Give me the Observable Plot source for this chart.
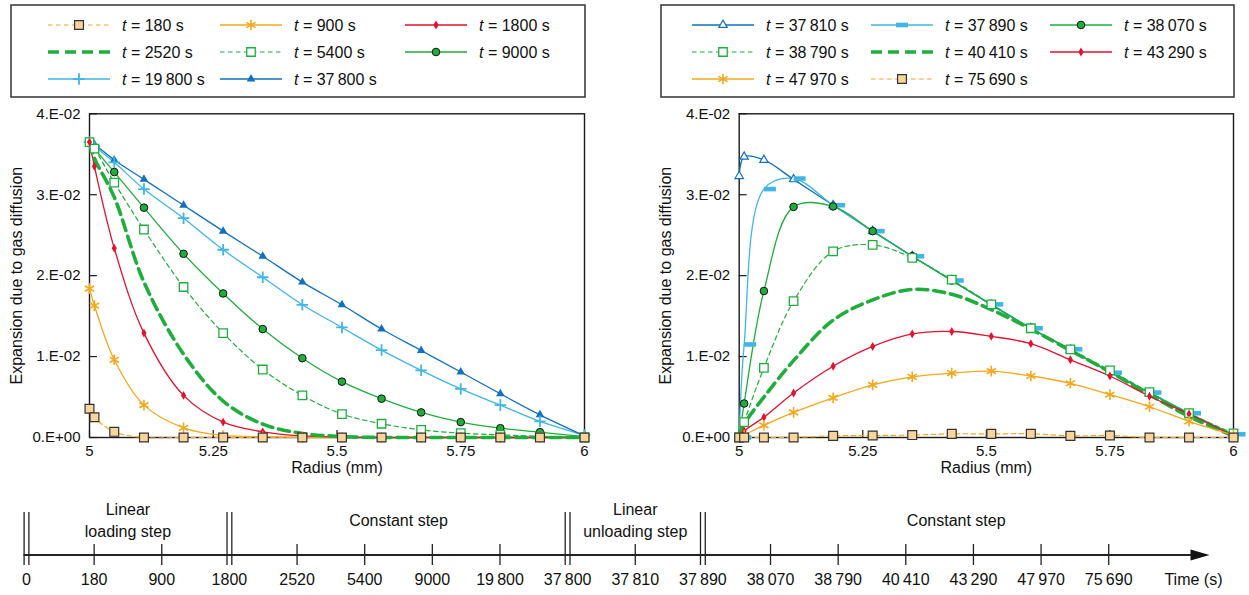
<!DOCTYPE html>
<html><head><meta charset="utf-8">
<script src="https://cdn.jsdelivr.net/npm/d3@7"></script>
<script src="https://cdn.jsdelivr.net/npm/@observablehq/plot@0.6"></script>
<style>
html,body{margin:0;padding:0;background:#fff;}
#root{position:relative;width:1249px;height:595px;overflow:hidden;font-family:"Liberation Sans",Arial,Helvetica,sans-serif;}
#root > div{position:absolute;}
</style></head>
<body><div id="root"></div>
<script>
// ---------------- DATA ----------------
const UNIT = 1e-2; // values below are in units of 1E-02
const radius = [5, 5.01, 5.05, 5.11, 5.19, 5.27, 5.35, 5.43, 5.51, 5.59, 5.67, 5.75, 5.83, 5.91, 6];

// left panel (loading / constant step)
const L180   = [0.355, 0.25, 0.07, 0, 0, 0, 0, 0, 0, 0, 0, 0, 0, 0, 0];
const L900   = [1.84, 1.63, 0.96, 0.40, 0.12, 0.025, 0.01, 0, 0, 0, 0, 0, 0, 0, 0];
const L1800  = [3.65, 3.35, 2.34, 1.29, 0.52, 0.19, 0.07, 0.02, 0.005, 0, 0, 0, 0, 0, 0];
const L2520  = [3.65, 3.45, 2.97, 1.92, 1.03, 0.45, 0.165, 0.05, 0.012, 0, 0, 0, 0, 0, 0];
const L5400  = [3.65, 3.57, 3.15, 2.57, 1.86, 1.29, 0.84, 0.52, 0.29, 0.17, 0.095, 0.053, 0.033, 0.015, 0];
const L9000  = [3.65, 3.57, 3.28, 2.84, 2.27, 1.78, 1.34, 0.98, 0.69, 0.48, 0.31, 0.19, 0.115, 0.066, 0.01];
const L19800 = [3.65, 3.60, 3.40, 3.07, 2.71, 2.32, 1.98, 1.64, 1.36, 1.08, 0.83, 0.60, 0.40, 0.20, 0.03];
const L37800 = [3.65, 3.62, 3.43, 3.19, 2.87, 2.55, 2.24, 1.92, 1.64, 1.34, 1.075, 0.81, 0.54, 0.28, 0.02];

// right panel (unloading / constant step)
const R37810 = [3.23, 3.47, 3.43, 3.19, 2.87, 2.55, 2.24, 1.94, 1.64, 1.35, 1.085, 0.81, 0.55, 0.29, 0.02];
const R37890 = [0, 1.15, 3.07, 3.20, 2.87, 2.55, 2.24, 1.94, 1.645, 1.35, 1.09, 0.80, 0.555, 0.30, 0.04];
const R38070 = [0, 0.42, 1.81, 2.85, 2.855, 2.55, 2.24, 1.94, 1.64, 1.35, 1.085, 0.81, 0.555, 0.30, 0.03];
const R38790 = [0, 0.19, 0.86, 1.685, 2.30, 2.38, 2.22, 1.95, 1.645, 1.35, 1.09, 0.83, 0.56, 0.30, 0.05];
const R40410 = [0.05, 0.17, 0.50, 0.95, 1.45, 1.70, 1.83, 1.77, 1.58, 1.34, 1.075, 0.81, 0.53, 0.26, 0.02];
const R43290 = [0, 0.08, 0.25, 0.55, 0.88, 1.125, 1.28, 1.31, 1.25, 1.16, 0.96, 0.76, 0.51, 0.29, 0.02];
const R47970 = [0, 0.03, 0.15, 0.31, 0.49, 0.65, 0.75, 0.795, 0.82, 0.76, 0.67, 0.53, 0.38, 0.20, 0.03];
const R75690 = [0, 0, 0, 0, 0.02, 0.025, 0.03, 0.045, 0.045, 0.045, 0.02, 0.025, 0, 0, 0];

const yTicks = [0, 0.01, 0.02, 0.03, 0.04];
const yTickLabels = ["0.E+00", "1.E-02", "2.E-02", "3.E-02", "4.E-02"];
const xTicks = [5, 5.25, 5.5, 5.75, 6];
const xTickLabels = ["5", "5.25", "5.5", "5.75", "6"];
const yTitle = "Expansion due to gas diffusion";
const xTitle = "Radius (mm)";

// timeline
const timeTicks  = [0, 180, 900, 1800, 2520, 5400, 9000, 19800, 37800, 37810, 37890, 38070, 38790, 40410, 43290, 47970, 75690];
const timeLabels = ["0", "180", "900", "1800", "2520", "5400", "9000", "19\u2009800", "37\u2009800", "37\u2009810", "37\u2009890", "38\u2009070", "38\u2009790", "40\u2009410", "43\u2009290", "47\u2009970", "75\u2009690"];
const phaseBreaks = [0, 1800, 37800, 37890];
const phaseNames = ["Linear\nloading step", "Constant step", "Linear\nunloading step", "Constant step"];
const timeTitle = "Time (s)";

// ---------------- STYLES ----------------
const FONT = '"Liberation Sans", Arial, Helvetica, sans-serif';
const C = {orange:"#f4a81d", tan:"#f9d49b", red:"#e3122f", green:"#1fae3c", cyan:"#41b6e6", blue:"#1170c0", ink:"#1a1a1a"};
const dashRight = {draw(c){ c.moveTo(0,-2.3); c.lineTo(12,-2.3); c.lineTo(12,2.3); c.lineTo(0,2.3); c.closePath(); }};
const dashCenter = {draw(c){ c.moveTo(-6,-2.3); c.lineTo(6,-2.3); c.lineTo(6,2.3); c.lineTo(-6,2.3); c.closePath(); }};
const arrowHead = {draw(c){ c.moveTo(0,0); c.lineTo(-19,-5.5); c.lineTo(-19,5.5); c.closePath(); }};
const THIN = "4.5,3.5", THICK = "11,6";
const S = {
  tanSq:   {color:C.orange, width:1.2, dash:THIN, symbol:d3.symbolSquare, r:5, fill:C.tan, mstroke:"#333", msw:1.2},
  star:    {color:C.orange, width:1.3, symbol:d3.symbolAsterisk, r:5, fill:"none", mstroke:C.orange, msw:1.6},
  diamond: {color:C.red, width:1.3, symbol:d3.symbolDiamond, r:2.7, fill:C.red, mstroke:"none", msw:0},
  thick:   {color:C.green, width:3.6, dash:THICK},
  openSq:  {color:C.green, width:1.2, dash:THIN, symbol:d3.symbolSquare, r:4.8, fill:"white", mstroke:C.green, msw:1.3},
  circle:  {color:C.green, width:1.3, symbol:d3.symbolCircle, r:3.8, fill:C.green, mstroke:"#111", msw:1},
  plus:    {color:C.cyan, width:1.3, symbol:d3.symbolPlus, r:3.8, fill:"none", mstroke:C.cyan, msw:1.8},
  tri:     {color:C.blue, width:1.3, symbol:d3.symbolTriangle, r:3.2, fill:C.blue, mstroke:"none", msw:0},
  openTri: {color:C.blue, width:1.3, symbol:d3.symbolTriangle2, r:4, fill:"white", mstroke:C.blue, msw:1.2},
  dashM:   {color:C.cyan, width:1.3, symbol:dashRight, legendSymbol:dashCenter, r:3, fill:C.cyan, mstroke:"none", msw:0}
};
const leftSeries = [
  {t:"180", v:L180, ...S.tanSq}, {t:"900", v:L900, ...S.star}, {t:"1800", v:L1800, ...S.diamond},
  {t:"2520", v:L2520, ...S.thick}, {t:"5400", v:L5400, ...S.openSq}, {t:"9000", v:L9000, ...S.circle},
  {t:"19\u2009800", v:L19800, ...S.plus}, {t:"37\u2009800", v:L37800, ...S.tri}
];
const rightSeries = [
  {t:"37\u2009810", v:R37810, ...S.openTri}, {t:"37\u2009890", v:R37890, ...S.dashM}, {t:"38\u2009070", v:R38070, ...S.circle},
  {t:"38\u2009790", v:R38790, ...S.openSq}, {t:"40\u2009410", v:R40410, ...S.thick}, {t:"43\u2009290", v:R43290, ...S.diamond},
  {t:"47\u2009970", v:R47970, ...S.star}, {t:"75\u2009690", v:R75690, ...S.tanSq}
];

const root = document.getElementById("root");
function place(node, left, top){ const d = document.createElement("div"); d.style.left = left+"px"; d.style.top = top+"px"; d.appendChild(node); root.appendChild(d); }

// ---------------- PANELS ----------------
function panel(series, width, marginLeft, marginRight, reverseMarkers){
  const pts = vals => radius.map((r, i) => ({r, v: vals[i] * UNIT}));
  const marks = [
    Plot.frame({stroke:C.ink, strokeWidth:1.4}),
    Plot.ruleY(yTicks, {x1: 5, x2: 5.016, stroke:C.ink, strokeWidth:1.2}),
    Plot.ruleX(xTicks, {y1: 0, y2: 0.00088, stroke:C.ink, strokeWidth:1.2}),
    Plot.axisY(yTicks, {tickSize:0, tickPadding:9, tickFormat: d => yTickLabels[yTicks.indexOf(d)], fontSize:15, label:null}),
    Plot.axisX(xTicks, {tickSize:0, tickPadding:8, tickFormat: d => xTickLabels[xTicks.indexOf(d)], fontSize:15, label:null}),
    Plot.text([yTitle], {frameAnchor:"left", dx:-73, rotate:-90, textAnchor:"middle", lineAnchor:"middle", fontSize:16}),
    Plot.text([xTitle], {frameAnchor:"bottom", dy:30, textAnchor:"middle", lineAnchor:"middle", fontSize:16})
  ];
  for (const s of series) marks.push(Plot.line(pts(s.v), {x:"r", y:"v", curve:"catmull-rom", stroke:s.color, strokeWidth:s.width, strokeDasharray:s.dash}));
  const order = reverseMarkers ? series.slice().reverse() : series;
  for (const s of order) if (s.symbol) marks.push(Plot.dot(pts(s.v), {x:"r", y:"v", symbol:s.symbol, r:s.r, fill:s.fill, stroke:s.mstroke, strokeWidth:s.msw}));
  return Plot.plot({
    width, height:380, marginLeft, marginRight, marginTop:13.3, marginBottom:43,
    x:{domain:[5, 6]}, y:{domain:[0, 0.04]},
    style:{fontFamily:FONT, color:"#111", background:"transparent", overflow:"visible"},
    marks
  });
}
place(panel(leftSeries, 620, 89, 36, true), 0, 100);
place(panel(rightSeries, 599, 88.7, 16, false), 650, 100);

// ---------------- LEGENDS ----------------
const leg = d3.create("svg").attr("width", 1249).attr("height", 100).style("font-family", FONT).style("overflow","visible");
function legend(series, box, cols){
  leg.append("rect").attr("x", box[0]).attr("y", box[1]).attr("width", box[2]).attr("height", box[3])
    .attr("fill", "none").attr("stroke", "#333").attr("stroke-width", 1.5);
  const rows = [25, 52, 79];
  series.forEach((s, i) => {
    const x0 = cols[i % 3], y = rows[Math.floor(i / 3)];
    const g = leg.append("g");
    g.append("line").attr("x1", x0).attr("x2", x0 + 62).attr("y1", y).attr("y2", y)
      .attr("stroke", s.color).attr("stroke-width", s.width).attr("stroke-dasharray", s.dash || null);
    if (s.symbol) {
      const sym = s.legendSymbol || s.symbol;
      g.append("path").attr("transform", `translate(${x0 + 31},${y})`)
        .attr("d", d3.symbol(sym, s.r * s.r * Math.PI)())
        .attr("fill", s.fill).attr("stroke", s.mstroke).attr("stroke-width", s.msw);
    }
    const tx = g.append("text").attr("x", x0 + 74).attr("y", y).attr("dy", "0.35em").attr("font-size", 16).attr("fill", "#111");
    tx.append("tspan").attr("font-style", "italic").text("t");
    tx.append("tspan").text(` = ${s.t} s`);
  });
}
legend(leftSeries, [11, 5, 574, 92], [48, 220, 405]);
legend(rightSeries, [661, 5, 573, 92], [692, 871, 1050]);
place(leg.node(), 0, 0);

// ---------------- TIMELINE ----------------
const idx = t => timeTicks.indexOf(t);
const xEnd = timeTicks.length - 1 + 1.49;
const singles = timeTicks.filter(t => !phaseBreaks.includes(t));
const phases = phaseBreaks.map((b, i) => ({name: phaseNames[i], a: idx(b), b: i + 1 < phaseBreaks.length ? idx(phaseBreaks[i + 1]) : xEnd}));
const timeline = Plot.plot({
  width:1249, height:105, marginLeft:26, marginRight:40, marginTop:54, marginBottom:30,
  x:{domain:[0, xEnd], axis:null}, y:{domain:[-1, 1], axis:null},
  style:{fontFamily:FONT, color:"#111", background:"transparent", overflow:"visible"},
  marks:[
    Plot.ruleY([0], {x1: 0, x2: xEnd - 0.1, insetLeft:-2.5, stroke:"#222", strokeWidth:1.8}),
    Plot.dot([xEnd], {x: d => d, y: 0, symbol: arrowHead, r: 4, fill:"#111", stroke:"none"}),
    Plot.tickX(singles, {x: idx, stroke:"#222", strokeWidth:1.3}),
    Plot.tickX(phaseBreaks, {x: idx, dx:-2.4, insetTop:-32, stroke:"#222", strokeWidth:1.3}),
    Plot.tickX(phaseBreaks, {x: idx, dx:2.4, insetTop:-32, stroke:"#222", strokeWidth:1.3}),
    Plot.text(timeTicks, {x: idx, text: (d, i) => timeLabels[i], frameAnchor:"bottom", dy:14, lineAnchor:"middle", fontSize:16}),
    Plot.text(phases, {x: d => (d.a + d.b) / 2, text:"name", frameAnchor:"top", dy:-25.5, lineAnchor:"middle", lineHeight:1.35, fontSize:16}),
    Plot.text([timeTitle], {frameAnchor:"bottom-right", dx:13, dy:14, textAnchor:"end", lineAnchor:"middle", fontSize:16})
  ]
});
place(timeline, 0, 490);
</script>
</body></html>
